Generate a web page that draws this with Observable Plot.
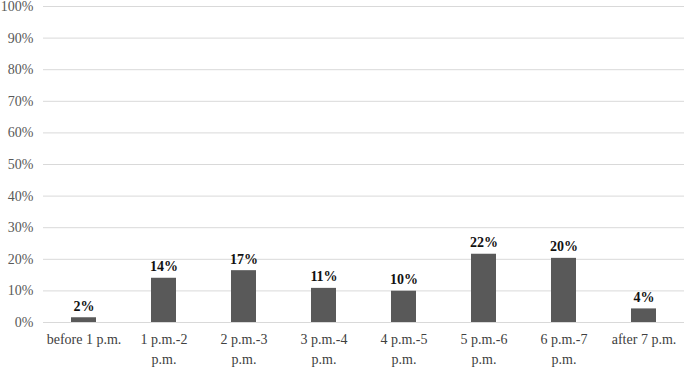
<!DOCTYPE html>
<html>
<head>
<meta charset="utf-8">
<script src="https://cdn.jsdelivr.net/npm/d3@7"></script>
<script src="https://cdn.jsdelivr.net/npm/@observablehq/plot@0.6"></script>
<style>
  html, body { margin: 0; padding: 0; background: #fff; }
  #chart { width: 687px; height: 368px; }
</style>
</head>
<body>
<div id="chart"></div>
<script>
const categories = ["before 1 p.m.", "1 p.m.-2\np.m.", "2 p.m.-3\np.m.", "3 p.m.-4\np.m.", "4 p.m.-5\np.m.", "5 p.m.-6\np.m.", "6 p.m.-7\np.m.", "after 7 p.m."];
const values = [1.5, 14.0, 16.4, 10.8, 9.9, 21.6, 20.3, 4.3];
const valueLabels = ["2%", "14%", "17%", "11%", "10%", "22%", "20%", "4%"];
const yTicks = [0, 10, 20, 30, 40, 50, 60, 70, 80, 90, 100];

const data = categories.map((c, i) => ({cat: c, value: values[i], label: valueLabels[i]}));
const font = "'Liberation Serif', 'Times New Roman', serif";

const chart = Plot.plot({
  width: 687,
  height: 368,
  marginLeft: 43,
  marginRight: 3,
  marginTop: 6,
  marginBottom: 46,
  style: {fontFamily: font, fontSize: "14px", background: "#fff"},
  x: {domain: categories, paddingInner: 0.69, paddingOuter: 0.345, label: null},
  y: {domain: [0, 100], label: null},
  marks: [
    Plot.gridY(yTicks, {stroke: "#d9d9d9", strokeOpacity: 1, strokeWidth: 1}),
    Plot.axisY(yTicks, {tickSize: 0, tickPadding: 10, tickFormat: d => d + "%", fill: "#595959", fontSize: 14, label: null}),
    Plot.axisX({tickSize: 0, tickPadding: 8, fill: "#404040", fontSize: 14, lineHeight: 1.4, label: null}),
    Plot.barY(data, {x: "cat", y: "value", fill: "#595959"}),
    Plot.text(data, {x: "cat", y: "value", text: "label", lineAnchor: "bottom", dy: -7, fill: "#111", fontSize: 14, fontWeight: "bold"})
  ]
});
document.getElementById("chart").appendChild(chart);
</script>
</body>
</html>
